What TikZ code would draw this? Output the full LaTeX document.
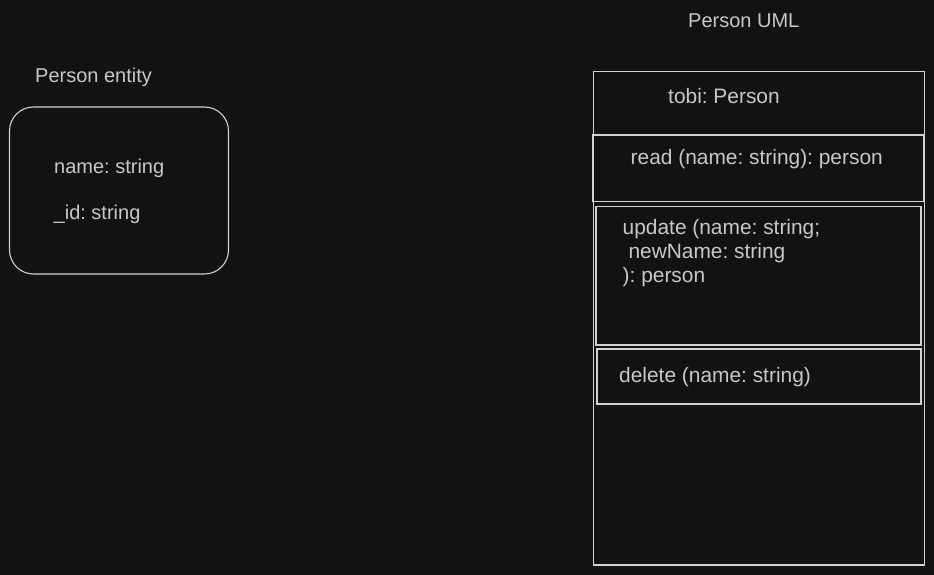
\documentclass[tikz,border=0pt]{standalone}
\usepackage{fontspec}
\setmainfont{Liberation Sans}
\usetikzlibrary{positioning}

\definecolor{canvas}{HTML}{121212}
\definecolor{inkline}{HTML}{D2D2D2}
\definecolor{inktext}{HTML}{C8C8C8}

\begin{document}
\frenchspacing
\begin{tikzpicture}[x=1pt, y=-1pt,
    every node/.style = {inner sep=0pt, text=inktext, font=\fontsize{20}{24}\selectfont},
    label/.style = {anchor=base west},
    member/.style = {anchor=base west, font=\fontsize{20.9}{24}\selectfont},
    box/.style = {draw=inkline, line width=1.1pt, rectangle},
    ]
    \fill[canvas] (0,0) rectangle (934,575);

    % entity
    \node[label] (entitytitle) at (35,83) {Person entity};
    \node[box, rounded corners=24pt, minimum width=219pt, minimum height=167pt] (entity) at (119,190.5) {};
    \node[label] (fieldname) at (54,173) {name: string};
    \node[label] (fieldid) at (53.5,219) {\_id: string};

    % uml
    \node[label] (umltitle) at (688,28) {Person UML};
    \node[box, minimum width=331pt, minimum height=493.5pt] (uml) at (759,318.25) {};
    \node[member] (object) at (668,104) {tobi: Person};
    \node[box, minimum width=331pt, minimum height=66.5pt] (readbox) at (757.8,168.25) {};
    \node[member] (read) at (630.5,164.5) {read (name: string): person};
    \node[box, minimum width=325pt, minimum height=138.5pt] (updatebox) at (758.5,275.75) {};
    \node[member, align=left] (update) at (622.5,282) {update (name: string;\\\ newName: string\\): person};
    \node[box, minimum width=324pt, minimum height=55pt] (deletebox) at (759,376.5) {};
    \node[member] (delete) at (619,382) {delete (name: string)};
\end{tikzpicture}
\end{document}
